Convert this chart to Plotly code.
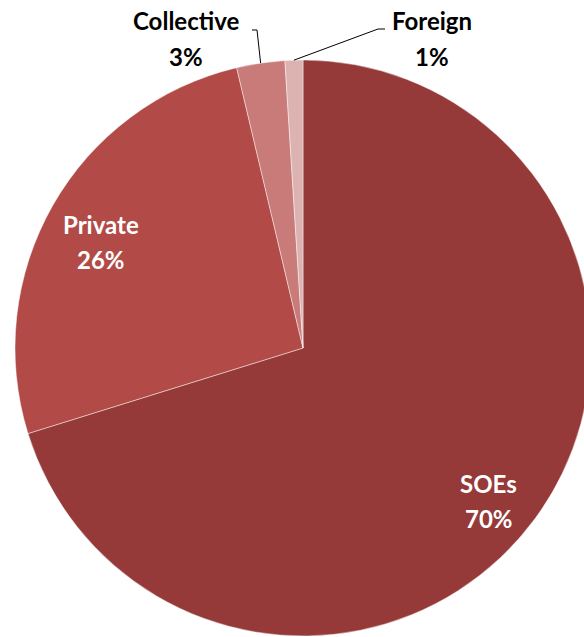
import math
import plotly.graph_objects as go

# ---- data ----
categories = ["SOEs", "Private", "Collective", "Foreign"]
shares = [70.2, 26.1, 2.7, 1.0]
pct_labels = ["70%", "26%", "3%", "1%"]
colors = ["#953A39", "#B24B48", "#C97B7A", "#DDB3B2"]

# ---- geometry (pixels) ----
W, H = 600, 637
CX, CY, R = 303, 348, 288

def px(x):
    return x / W

def py(y):
    return 1 - y / H

fig = go.Figure(go.Pie(
    labels=categories,
    values=shares,
    sort=False,
    direction="clockwise",
    rotation=0,
    textinfo="none",
    hoverinfo="label+percent",
    marker=dict(colors=colors, line=dict(color="rgba(255,255,255,0.55)", width=0.8)),
    domain=dict(x=[px(CX - R), px(CX + R)], y=[py(CY + R), py(CY - R)]),
    showlegend=False,
))

FONT = "Lato, 'Liberation Sans', sans-serif"

# label block centres (pixels) and colours
label_pos = {
    "SOEs": (489, 501, "white"),
    "Private": (101, 242, "white"),
    "Collective": (186, 38.5, "black"),
    "Foreign": (432, 38.5, "black"),
}
LINE_GAP = 35
annotations = []
for cat, pct in zip(categories, pct_labels):
    x, y, col = label_pos[cat]
    for txt, yy in ((cat, y - LINE_GAP / 2), (pct, y + LINE_GAP / 2)):
        annotations.append(dict(
            x=px(x), y=py(yy), xref="paper", yref="paper",
            text=f"<b>{txt}</b>",
            showarrow=False, xanchor="center", yanchor="middle",
            font=dict(family=FONT, size=24, color=col),
        ))

# leader lines for small outside slices, anchored at slice mid-angle on the rim
total = sum(shares)
cum = 0
mid_angles = {}
for cat, v in zip(categories, shares):
    mid_angles[cat] = (cum + v / 2) / total * 2 * math.pi
    cum += v

elbows = {"Collective": ((257, 30), (252, 30)), "Foreign": ((378, 29), (385, 29))}
shapes = []
for cat, (elbow, end) in elbows.items():
    a = mid_angles[cat]
    sx = CX + R * math.sin(a)
    sy = CY - R * math.cos(a)
    pts = [(sx, sy), elbow, end]
    path = "M " + " L ".join(f"{px(x)},{py(y)}" for x, y in pts)
    shapes.append(dict(type="path", path=path, xref="paper", yref="paper",
                       line=dict(color="black", width=1)))

fig.update_layout(
    width=W, height=H, autosize=False,
    margin=dict(l=0, r=0, t=0, b=0),
    paper_bgcolor="white", plot_bgcolor="white",
    annotations=annotations, shapes=shapes,
)

fig.write_html(
    "out.html",
    config={"displayModeBar": False},
    post_script="document.body.style.margin='0';document.body.style.overflow='hidden';document.documentElement.style.overflow='hidden';",
)
